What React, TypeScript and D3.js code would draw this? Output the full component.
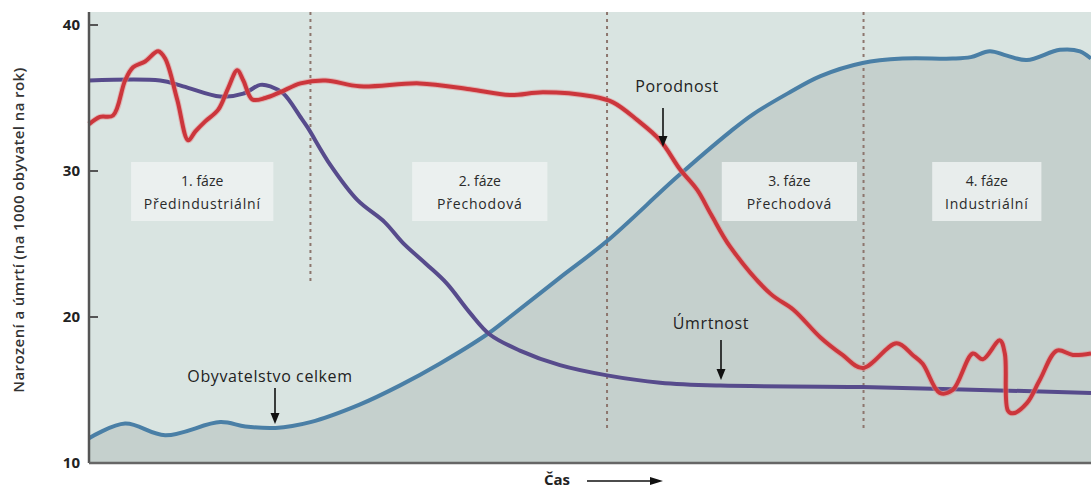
import React from "react";
import * as d3 from "d3";

// time axis 0..100 (no labels), rates per 1000 inhabitants per year
const birthTime = [0, 1.1, 2.4, 3.6, 4.4, 5.6, 6.9, 7.6, 8.8, 9.9, 10.6, 11.6, 12.9, 13.9, 14.8, 15.4, 16.3, 17.6, 19.1, 21.1, 23.6, 27.0, 33.0, 38.0, 42.0, 45.3, 50.3, 52.3, 54.7, 57.0, 59.0, 60.7, 62.1, 64.0, 68.0, 70.3, 73.0, 75.2, 77.2, 80.6, 82.2, 83.2, 84.9, 86.2, 88.2, 89.2, 90.9, 91.4, 91.7, 92.2, 93.6, 94.9, 96.6, 98.2, 100];
const birthRate = [33.2, 33.7, 33.8, 36.2, 37.1, 37.5, 38.2, 37.7, 34.9, 32.1, 32.7, 33.4, 34.2, 35.7, 36.9, 36.2, 34.9, 35.0, 35.4, 36.0, 36.2, 35.8, 36.0, 35.6, 35.2, 35.4, 35.1, 34.7, 33.5, 32.1, 30.1, 28.7, 27.0, 24.8, 21.6, 20.5, 18.6, 17.4, 16.5, 18.2, 17.4, 16.8, 14.8, 15.0, 17.5, 17.1, 18.4, 17.5, 13.6, 13.4, 14.1, 15.7, 17.7, 17.4, 17.5];

const deathTime = [0, 7.1, 9.4, 13.1, 15.4, 17.1, 18.1, 19.4, 21.1, 21.8, 24.1, 26.8, 29.5, 31.3, 33.7, 35.7, 38.0, 40.0, 43.0, 47.0, 51.7, 57.0, 63.0, 77.2, 100];
const deathRate = [36.2, 36.2, 35.8, 35.1, 35.3, 35.9, 35.8, 35.3, 33.7, 33.0, 30.4, 28.0, 26.5, 25.1, 23.6, 22.3, 20.3, 18.8, 17.7, 16.7, 16.0, 15.5, 15.3, 15.2, 14.8];

const popTime = [0, 3.6, 7.6, 13.1, 15.6, 18.6, 22.1, 27.0, 31.0, 35.0, 39.7, 42.0, 47.0, 51.7, 58.7, 64.0, 66.3, 69.7, 73.0, 77.2, 81.2, 86.2, 88.0, 89.9, 91.6, 93.6, 96.9, 98.9, 100];
const popValue = [11.7, 12.7, 11.9, 12.8, 12.5, 12.4, 12.8, 14.0, 15.3, 16.8, 18.8, 20.0, 22.7, 25.2, 29.6, 32.7, 33.9, 35.3, 36.5, 37.4, 37.7, 37.7, 37.8, 38.2, 37.9, 37.6, 38.3, 38.2, 37.7];

const yTicks = [10, 20, 30, 40];
const phaseBoundaries = [22.1, 51.7, 77.3];
const phaseBoundaryEnds = [22.4, 12.3, 12.3];
const phaseCenters = [11.3, 39.0, 69.9, 89.6];
const phaseWidths = [14.2, 13.5, 13.5, 10.9];
const phaseTitles = ["1. fáze", "2. fáze", "3. fáze", "4. fáze"];
const phaseNames = ["Předindustriální", "Přechodová", "Přechodová", "Industriální"];

const W = 1091;
const H = 490;
const left = 89;
const right = 1091;
const plotTop = 12;
const bottom = 463;

export default function App() {
  const x = d3.scaleLinear().domain([0, 100]).range([left, right]);
  const y = d3.scaleLinear().domain([10, 40]).range([bottom, 25]);
  const yTop = y.invert(plotTop);

  const zip = (t: number[], v: number[]) => t.map((tt, i) => [tt, v[i]] as [number, number]);
  const line = d3
    .line<[number, number]>()
    .x((d) => x(d[0]))
    .y((d) => y(d[1]))
    .curve(d3.curveCatmullRom.alpha(0.5));
  const area = d3
    .area<[number, number]>()
    .x((d) => x(d[0]))
    .y0(y(10))
    .y1((d) => y(d[1]))
    .curve(d3.curveCatmullRom.alpha(0.5));

  const birth = zip(birthTime, birthRate);
  const death = zip(deathTime, deathRate);
  const pop = zip(popTime, popValue);

  const font = "'Open Sans', 'Noto Sans', sans-serif";

  const arrow = (ax: number, y1: number, y2: number) => (
    <g>
      <line x1={ax} x2={ax} y1={y1} y2={y2 - 9} stroke="#111" strokeWidth={1.6} />
      <path d={`M${ax - 4.5},${y2 - 11} L${ax + 4.5},${y2 - 11} L${ax},${y2} Z`} fill="#111" />
    </g>
  );

  return (
    <svg width={W} height={H} style={{ position: "absolute", left: 0, top: 0, background: "#fff" }}>
      <rect x={left} y={plotTop} width={right - left} height={bottom - plotTop} fill="#d9e4e1" />
      <path d={area(pop) || ""} fill="#c5d0cd" />

      {phaseBoundaries.map((b, i) => (
        <line
          key={i}
          x1={x(b)}
          x2={x(b)}
          y1={y(yTop)}
          y2={y(phaseBoundaryEnds[i])}
          stroke="#8d766e"
          strokeWidth={2}
          strokeDasharray="3 4"
        />
      ))}

      {phaseCenters.map((c, i) => {
        const w = x(phaseWidths[i]) - x(0);
        return (
          <g key={i}>
            <rect x={x(c) - w / 2} y={162} width={w} height={59} fill="#edf2f1" opacity={0.85} />
            <text x={x(c)} y={186} textAnchor="middle" fontFamily={font} fontSize={14} fill="#2a2a2a">
              {phaseTitles[i]}
            </text>
            <text x={x(c)} y={209} textAnchor="middle" fontFamily={font} fontSize={14} fill="#2a2a2a" letterSpacing={0.8}>
              {phaseNames[i]}
            </text>
          </g>
        );
      })}

      <path d={line(pop) || ""} fill="none" stroke="#4a7fa6" strokeWidth={4} />
      <path d={line(death) || ""} fill="none" stroke="#574b8c" strokeWidth={4} />
      <path d={line(birth) || ""} fill="none" stroke="#e58a8c" strokeWidth={6} opacity={0.5} />
      <path d={line(birth) || ""} fill="none" stroke="#cc363c" strokeWidth={4} />

      {/* axes */}
      <line x1={left} x2={left} y1={plotTop} y2={bottom} stroke="#555" strokeWidth={2.5} />
      <line x1={left} x2={right} y1={bottom} y2={bottom} stroke="#666" strokeWidth={2.5} />
      {yTicks.map((t) => (
        <g key={t}>
          {t > 10 && <line x1={left} x2={left + 9} y1={y(t)} y2={y(t)} stroke="#555" strokeWidth={2} />}
          <text x={80} y={y(t) + 5} textAnchor="end" fontFamily={font} fontSize={15} fontWeight={700} fill="#222">
            {t}
          </text>
        </g>
      ))}
      <text
        transform={`translate(24,${230}) rotate(-90)`}
        textAnchor="middle"
        fontFamily={font}
        fontSize={15}
        fontWeight={600}
        fill="#333"
        letterSpacing={0.4}
      >
        Narození a úmrtí (na 1000 obyvatel na rok)
      </text>

      {/* x label */}
      <text x={557} y={485} textAnchor="middle" fontFamily={font} fontSize={15} fontWeight={700} fill="#222">
        Čas
      </text>
      <line x1={587} x2={652} y1={481} y2={481} stroke="#111" strokeWidth={1.6} />
      <path d="M650,477 L663,481 L650,485 Z" fill="#111" />

      {/* annotations */}
      <text x={677} y={92} textAnchor="middle" fontFamily={font} fontSize={16} fill="#222" letterSpacing={0.6}>
        Porodnost
      </text>
      {arrow(663, 108, 147)}
      <text x={711} y={329} textAnchor="middle" fontFamily={font} fontSize={16} fill="#222" letterSpacing={0.6}>
        Úmrtnost
      </text>
      {arrow(721, 340, 380)}
      <text x={270} y={382} textAnchor="middle" fontFamily={font} fontSize={16} fill="#222" letterSpacing={0.6}>
        Obyvatelstvo celkem
      </text>
      {arrow(275, 388, 424)}
    </svg>
  );
}
